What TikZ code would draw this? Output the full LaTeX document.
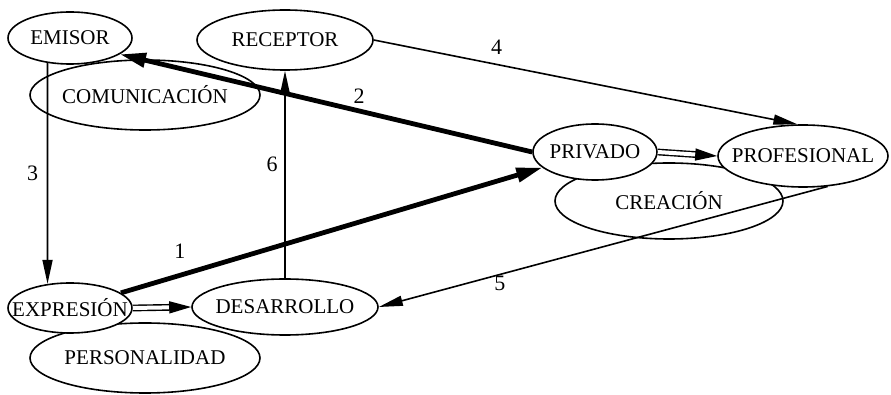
\documentclass[tikz,border=0pt]{standalone}
\usepackage{fontspec}
\setmainfont{Liberation Serif}
\usetikzlibrary{shapes.geometric,arrows.meta}

\begin{document}
\begin{tikzpicture}[x=0.5pt,y=-0.5pt,
  elli/.style={ellipse, draw, fill=white, inner sep=-10pt, outer sep=0.4pt, line width=0.8pt, font=\fontsize{10.5}{12}\selectfont},
  fina/.style={line width=0.8pt, -{Triangle[length=12pt,width=5pt]}},
  gruesa/.style={line width=2.4pt, -{Triangle[length=13pt,width=7pt]}},
  doble/.style={double, double distance=2pt, line width=0.7pt, -{Triangle[length=11pt,width=6pt]}},
  num/.style={font=\fontsize{11}{13}\selectfont}]
\useasboundingbox (0,0) rectangle (891,395);
\node[elli, minimum width=115pt, minimum height=35pt] (comunicacion) at (145,95){COMUNICACIÓN};
\node[elli, minimum width=114pt, minimum height=38pt] (creacion) at (669,201){CREACIÓN};
\node[elli, minimum width=115pt, minimum height=35pt] (personalidad) at (145,358){PERSONALIDAD};
\node[elli, minimum width=62pt, minimum height=26pt] (emisor) at (70,38){EMISOR};
\node[elli, minimum width=88pt, minimum height=30pt] (receptor) at (285,40){RECEPTOR};
\node[elli, minimum width=62pt, minimum height=28pt] (privado) at (595,152){PRIVADO};
\node[elli, minimum width=85pt, minimum height=31pt] (profesional) at (803,156){PROFESIONAL};
\node[elli, minimum width=62pt, minimum height=25pt] (expresion) at (70,308){EXPRESIÓN};
\node[elli, minimum width=93pt, minimum height=28pt] (desarrollo) at (285,307){DESARROLLO};
\draw[gruesa](expresion) -- (privado) node[num, pos=0.14, above=4pt]{1};
\draw[gruesa](privado.west) -- (emisor.-18) node[num, pos=0.42, above=-1pt]{2};
\draw[fina](emisor.228) -- (expresion.133) node[num, pos=0.5, left=1pt]{3};
\draw[fina](receptor.east) -- (profesional.100) node[num, pos=0.29, above=1pt]{4};
\draw[fina](profesional.-51) -- (desarrollo.east) node[num, pos=0.73, below=-3pt]{5};
\draw[fina](desarrollo.north) -- (receptor.south) node[num, pos=0.55, left=0pt]{6};
\draw[doble](expresion.east) -- (desarrollo.west);
\draw[doble](privado.east) -- (profesional.west);

\end{tikzpicture}
\end{document}
